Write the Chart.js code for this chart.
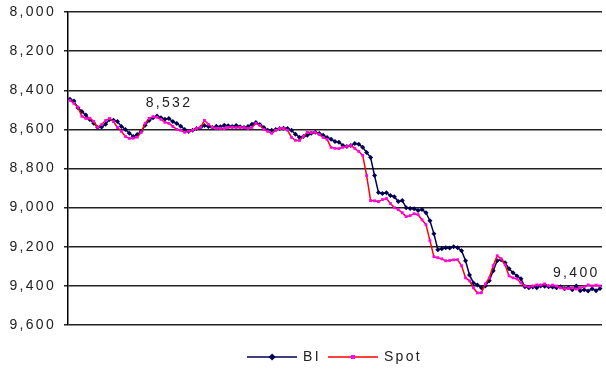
<!DOCTYPE html>
<html>
<head>
<meta charset="utf-8">
<script src="https://cdn.jsdelivr.net/npm/chart.js@4.4.1/dist/chart.umd.min.js"></script>
<style>
  html, body { margin: 0; padding: 0; background: #fff; }
</style>
</head>
<body>
<canvas id="chart" width="606" height="369"></canvas>
<script>
// daily fixings, IDR per USD
const bi = [
  8446, 8455, 8490, 8508, 8527, 8549, 8569, 8590, 8588, 8574,
  8550, 8553, 8560, 8585, 8600, 8620, 8636, 8626, 8610, 8579,
  8554, 8540, 8532, 8540, 8548, 8545, 8560, 8570, 8584, 8600,
  8611, 8605, 8595, 8590, 8580, 8585, 8590, 8584, 8586, 8579,
  8581, 8585, 8580, 8586, 8590, 8585, 8574, 8565, 8575, 8590,
  8605, 8604, 8600, 8596, 8594, 8595, 8605, 8625, 8640, 8636,
  8630, 8620, 8615, 8621, 8630, 8641, 8650, 8662, 8666, 8682,
  8687, 8683, 8672, 8676, 8692, 8718, 8744, 8836, 8923, 8928,
  8924, 8938, 8944, 8969, 8964, 9000, 9005, 9006, 9015, 9010,
  9026, 9067, 9133, 9215, 9210, 9205, 9206, 9200, 9205, 9220,
  9272, 9344, 9385, 9395, 9410, 9400, 9374, 9323, 9272, 9267,
  9282, 9313, 9333, 9349, 9364, 9405, 9410, 9406, 9410, 9400,
  9402, 9405, 9406, 9410, 9404, 9415, 9410, 9420, 9400, 9425,
  9420, 9426, 9415, 9425, 9414
];
const spot = [
  8451, 8467, 8487, 8533, 8544, 8543, 8559, 8590, 8575, 8555,
  8544, 8560, 8590, 8610, 8636, 8646, 8645, 8640, 8615, 8569,
  8544, 8535, 8538, 8549, 8564, 8569, 8585, 8600, 8605, 8615,
  8610, 8605, 8595, 8590, 8554, 8574, 8590, 8594, 8595, 8596,
  8590, 8589, 8591, 8590, 8591, 8595, 8590, 8569, 8580, 8600,
  8610, 8620, 8605, 8595, 8596, 8604, 8641, 8656, 8657, 8636,
  8615, 8616, 8615, 8626, 8641, 8651, 8692, 8697, 8698, 8692,
  8687, 8682, 8697, 8713, 8733, 8836, 8964, 8965, 8969, 8959,
  8954, 8979, 9000, 9010, 9026, 9046, 9041, 9031, 9036, 9062,
  9087, 9169, 9251, 9256, 9262, 9272, 9270, 9267, 9266, 9297,
  9359, 9374, 9410, 9436, 9435, 9390, 9359, 9297, 9246, 9262,
  9292, 9349, 9359, 9364, 9385, 9400, 9405, 9401, 9395, 9396,
  9390, 9400, 9396, 9401, 9410, 9415, 9414, 9410, 9416, 9410,
  9405, 9395, 9400, 9396, 9400
];
const seriesNames = ['BI', 'Spot'];
const yMin = 8000;
const yMax = 9600;
const yStep = 200;
const days = bi.map((_, i) => i + 1);

const FONT = '"Liberation Sans", Arial, sans-serif';
const SPACING = '2.3px';

// legend swatch: short line with the marker in the middle
function legendIcon(lineColor, markerColor, shape) {
  const c = document.createElement('canvas');
  c.width = 50;
  c.height = 10;
  const g = c.getContext('2d');
  g.strokeStyle = lineColor;
  g.lineWidth = 1.5;
  g.beginPath();
  g.moveTo(0, 5);
  g.lineTo(50, 5);
  g.stroke();
  g.fillStyle = markerColor;
  if (shape === 'diamond') {
    g.beginPath();
    g.moveTo(25, 1.5);
    g.lineTo(28.5, 5);
    g.lineTo(25, 8.5);
    g.lineTo(21.5, 5);
    g.closePath();
    g.fill();
  } else {
    g.fillRect(23, 3, 4, 4);
  }
  return c;
}
const legendIcons = [
  legendIcon('#000050', '#000050', 'diamond'),
  legendIcon('#ff0000', '#ff00ff', 'square')
];

// wider text tracking for every label drawn on the canvas
const tracking = {
  id: 'tracking',
  beforeLayout(chart) { chart.ctx.letterSpacing = SPACING; },
  beforeDraw(chart) { chart.ctx.letterSpacing = SPACING; }
};

// value callouts above selected points
const callouts = {
  id: 'callouts',
  afterDatasetsDraw(chart, args, opts) {
    const ctx = chart.ctx;
    ctx.save();
    ctx.letterSpacing = SPACING;
    ctx.font = '14px ' + FONT;
    ctx.fillStyle = '#222';
    ctx.textAlign = 'center';
    ctx.textBaseline = 'alphabetic';
    opts.items.forEach(item => {
      const pt = chart.getDatasetMeta(item.dataset).data[item.index];
      const v = chart.data.datasets[item.dataset].data[item.index];
      ctx.fillText(v.toLocaleString('en-US'), pt.x + (item.dx || 0), pt.y - 9);
    });
    ctx.restore();
  }
};

new Chart(document.getElementById('chart'), {
  type: 'line',
  data: {
    labels: days,
    datasets: [
      {
        label: seriesNames[0],
        data: bi,
        order: 1,
        borderColor: '#000050',
        backgroundColor: '#000050',
        borderWidth: 1.5,
        pointStyle: 'rectRot',
        pointRadius: 2.5,
        pointBorderWidth: 0,
        pointBackgroundColor: '#000050',
        tension: 0
      },
      {
        label: seriesNames[1],
        data: spot,
        order: 0,
        borderColor: '#ff0000',
        backgroundColor: '#ff00ff',
        borderWidth: 1.5,
        pointStyle: 'rect',
        pointRadius: 2,
        pointBorderWidth: 0,
        pointBackgroundColor: '#ff00ff',
        tension: 0
      }
    ]
  },
  options: {
    responsive: false,
    animation: false,
    events: [],
    layout: { padding: { top: 12, right: 0, bottom: -5, left: 0 } },
    scales: {
      x: {
        type: 'category',
        offset: true,
        grid: { display: false, drawTicks: false },
        border: { display: false },
        ticks: { display: false },
        afterFit(scale) { scale.height = 17; }
      },
      y: {
        reverse: true,
        min: yMin,
        max: yMax,
        ticks: {
          stepSize: yStep,
          color: '#222',
          padding: 8,
          font: { family: FONT, size: 14 },
          callback: v => v.toLocaleString('en-US')
        },
        grid: {
          color: '#222',
          lineWidth: 1.5,
          tickLength: 4,
          tickColor: '#222'
        },
        border: { display: true, color: '#000', width: 1.5 },
        afterFit(scale) {
          scale.width = 68;
          scale.paddingTop = 0;
          scale.paddingBottom = 0;
        }
      }
    },
    plugins: {
      tooltip: { enabled: false },
      legend: {
        position: 'bottom',
        fullSize: false,
        labels: {
          usePointStyle: true,
          pointStyleWidth: 48,
          padding: 8,
          color: '#222',
          font: { family: FONT, size: 14 },
          sort: (a, b) => a.datasetIndex - b.datasetIndex,
          generateLabels(chart) {
            return Chart.defaults.plugins.legend.labels.generateLabels(chart)
              .map(item => Object.assign(item, { pointStyle: legendIcons[item.datasetIndex] }));
          }
        }
      },
      callouts: {
        items: [
          { dataset: 0, index: 22, dx: 12 },
          { dataset: 0, index: 128, dx: 0 }
        ]
      }
    }
  },
  plugins: [tracking, callouts]
});
</script>
</body>
</html>
